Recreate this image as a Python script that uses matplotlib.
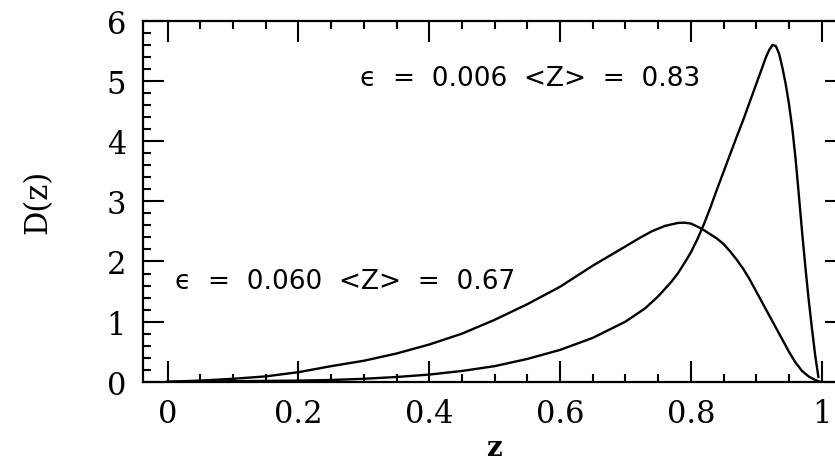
import matplotlib
matplotlib.use("Agg")
import matplotlib.pyplot as plt
from matplotlib.ticker import MultipleLocator

# curve: epsilon = 0.060, <z> = 0.67
z_wide = [0.0, 0.05, 0.1, 0.15, 0.2, 0.25, 0.3, 0.35, 0.4, 0.45, 0.5, 0.55,
          0.6, 0.65, 0.7, 0.72, 0.74, 0.76, 0.78, 0.79, 0.8, 0.81, 0.82,
          0.83, 0.84, 0.85, 0.86, 0.87, 0.88, 0.89, 0.9, 0.91, 0.92, 0.93,
          0.94, 0.95, 0.96, 0.97, 0.98, 0.99, 0.998]
d_wide = [0.0, 0.02, 0.05, 0.09, 0.16, 0.26, 0.35, 0.47, 0.62, 0.80, 1.03,
          1.29, 1.58, 1.93, 2.25, 2.38, 2.50, 2.59, 2.64, 2.645, 2.63, 2.58,
          2.52, 2.45, 2.38, 2.29, 2.17, 2.03, 1.88, 1.70, 1.50, 1.30, 1.10,
          0.90, 0.70, 0.50, 0.32, 0.18, 0.09, 0.03, 0.0]

# curve: epsilon = 0.006, <z> = 0.83
z_narrow = [0.0, 0.05, 0.1, 0.15, 0.2, 0.25, 0.3, 0.35, 0.4, 0.45, 0.5, 0.55,
            0.6, 0.65, 0.7, 0.73, 0.75, 0.77, 0.78, 0.79, 0.8, 0.81, 0.82,
            0.83, 0.84, 0.85, 0.86, 0.87, 0.88, 0.89, 0.9, 0.905, 0.91,
            0.915, 0.92, 0.925, 0.93, 0.935, 0.94, 0.945, 0.95, 0.955, 0.96,
            0.965, 0.97, 0.975, 0.98, 0.985, 0.99, 0.995]
d_narrow = [0.0, 0.0, 0.01, 0.015, 0.02, 0.03, 0.05, 0.08, 0.12, 0.18, 0.26,
            0.38, 0.53, 0.73, 1.0, 1.22, 1.42, 1.66, 1.80, 1.97, 2.15, 2.37,
            2.62, 2.90, 3.20, 3.49, 3.78, 4.07, 4.35, 4.65, 4.95, 5.10, 5.25,
            5.40, 5.52, 5.60, 5.58, 5.45, 5.22, 4.95, 4.62, 4.22, 3.72, 3.12,
            2.50, 1.92, 1.38, 0.90, 0.45, 0.08]

labels = ["\u03f5  =  0.060  <Z>  =  0.67", "\u03f5  =  0.006  <Z>  =  0.83"]

fig = plt.figure(figsize=(8.35, 4.64), dpi=100)
ax = fig.add_axes([0.171, 0.175, 0.842, 0.778])

ax.plot(z_wide, d_wide, color="black", lw=1.7)
ax.plot(z_narrow, d_narrow, color="black", lw=1.7)

ax.set_xlim(-0.038, 1.037)
ax.set_ylim(0, 6)
ax.xaxis.set_major_locator(MultipleLocator(0.2))
ax.xaxis.set_minor_locator(MultipleLocator(0.05))
ax.yaxis.set_major_locator(MultipleLocator(1))
ax.yaxis.set_minor_locator(MultipleLocator(0.2))
ax.set_xticks([0, 0.2, 0.4, 0.6, 0.8, 1.0])
ax.set_xticklabels(["0", "0.2", "0.4", "0.6", "0.8", "1"])

ax.tick_params(which="both", direction="in", top=True, right=True,
               width=1.5, labelsize=22)
ax.tick_params(which="major", length=15, pad=12)
ax.tick_params(which="minor", length=6)
for lab in ax.get_xticklabels() + ax.get_yticklabels():
    lab.set_family("DejaVu Serif")
for s in ax.spines.values():
    s.set_linewidth(1.6)

ax.set_xlabel("z", family="DejaVu Serif", fontweight="bold", fontsize=20,
              labelpad=3)
ax.set_ylabel("D(z)", family="DejaVu Serif", fontsize=22, labelpad=38)

ax.text(0.011, 1.68, labels[0], fontsize=19, family="DejaVu Sans",
        va="center", ha="left")
ax.text(0.294, 5.05, labels[1], fontsize=19, family="DejaVu Sans",
        va="center", ha="left")

fig.savefig("out.png", dpi=100)
